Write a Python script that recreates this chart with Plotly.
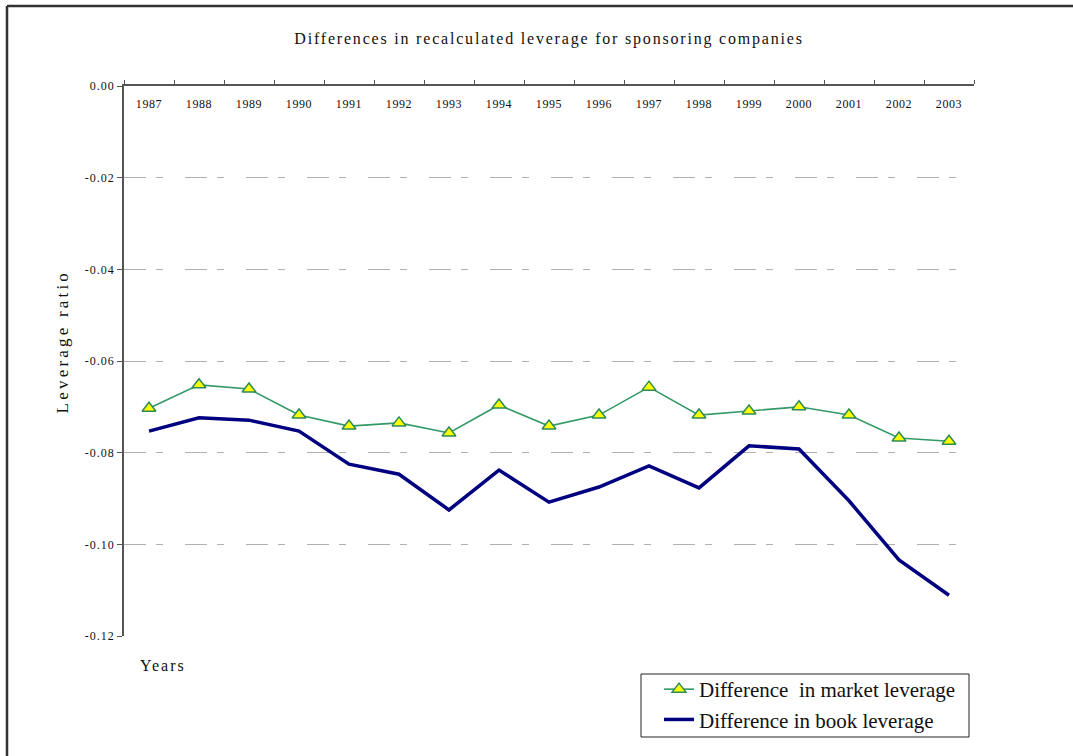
import plotly.graph_objects as go

years = [str(y) for y in range(1987, 2004)]

market_leverage = [-0.0703, -0.0652, -0.0661, -0.0718, -0.0742, -0.0735, -0.0757,
                   -0.0696, -0.0742, -0.0718, -0.0657, -0.0718, -0.0709, -0.0700,
                   -0.0718, -0.0768, -0.0775]
book_leverage = [-0.0753, -0.0724, -0.0729, -0.0753, -0.0825, -0.0847, -0.0925,
                 -0.0838, -0.0908, -0.0875, -0.0829, -0.0877, -0.0785, -0.0792,
                 -0.0905, -0.1034, -0.1111]

y_tick_values = [0.0, -0.02, -0.04, -0.06, -0.08, -0.10, -0.12]
y_tick_labels = ["0.00", "-0.02", "-0.04", "-0.06", "-0.08", "-0.10", "-0.12"]

FONT = "Liberation Serif, Times New Roman, serif"

W, H = 1073, 756
L, R, T, B = 124, 99, 86, 120
pw, ph = W - L - R, H - T - B


def px_x(x):
    return (x - L) / pw


def px_y(y):
    return (H - B - y) / ph


fig = go.Figure()

fig.add_trace(go.Scatter(
    x=years, y=market_leverage, mode="lines+markers",
    name="Difference\u00a0 in market leverage", legendgroup="market",
    line=dict(color="#339966", width=1.6),
    marker=dict(symbol="triangle-up", size=12, color="#ffff00",
                line=dict(color="#2e8b57", width=1.5)),
))
fig.add_trace(go.Scatter(
    x=years, y=book_leverage, mode="lines",
    name="Difference in book leverage", legendgroup="book",
    line=dict(color="#000080", width=3.5),
))

fig.update_layout(
    width=W, height=H,
    margin=dict(l=L, r=R, t=T, b=B),
    paper_bgcolor="white", plot_bgcolor="white",
    font=dict(family=FONT, color="#111"),
    showlegend=True,
    legend=dict(
        x=px_x(659), y=px_y(669), xanchor="left", yanchor="top",
        borderwidth=0, bgcolor="rgba(0,0,0,0)",
        font=dict(family=FONT, size=21, color="#111"),
        tracegroupgap=0,
    ),
    title=dict(
        text="Differences in recalculated leverage for sponsoring companies",
        x=0.5, xref="paper", xanchor="center",
        y=(H - 38) / H, yref="container", yanchor="middle",
        font=dict(family=FONT, size=16, color="#111"),
    ),
    xaxis=dict(
        type="category", side="top",
        showline=True, linecolor="#555", linewidth=1.5,
        ticks="outside", ticklen=4, tickcolor="#555", tickson="boundaries",
        ticklabelposition="outside", ticklabelstandoff=-29,
        tickfont=dict(family=FONT, size=12, color="#111"),
        showgrid=False, zeroline=False,
        range=[-0.5, len(years) - 0.5],
    ),
    yaxis=dict(
        range=[-0.12, 0.0],
        tickvals=y_tick_values, ticktext=y_tick_labels,
        showline=True, linecolor="#555", linewidth=1.5,
        ticks="outside", ticklen=5, tickcolor="#555",
        tickfont=dict(family=FONT, size=12, color="#111"),
        showgrid=True, gridcolor="#b0b0b0", gridwidth=1,
        griddash="22px,10px,7px,22px",
        zeroline=False,
    ),
)

fig.add_annotation(
    text="Years", xref="paper", yref="paper",
    x=px_x(143), y=px_y(665), xanchor="left", yanchor="middle",
    showarrow=False, font=dict(family=FONT, size=16, color="#111"),
)
fig.add_annotation(
    text="Leverage ratio", xref="paper", yref="paper",
    x=px_x(62), y=px_y(342), xanchor="center", yanchor="middle",
    textangle=-90, showarrow=False,
    font=dict(family=FONT, size=17, color="#111"),
)

# legend box
fig.add_shape(type="rect", xref="paper", yref="paper",
              x0=px_x(641), x1=px_x(969), y0=px_y(674), y1=px_y(737),
              line=dict(color="#222", width=1))

# outer frame lines along the top and left edges
frame = dict(color="#333", width=2.5)
fig.add_shape(type="line", xref="paper", yref="paper",
              x0=px_x(7), x1=px_x(W + 5), y0=px_y(6), y1=px_y(6), line=frame)
fig.add_shape(type="line", xref="paper", yref="paper",
              x0=px_x(7), x1=px_x(7), y0=px_y(6), y1=px_y(H + 5), line=frame)

# wider letter tracking for the serif labels
tracking = """
var gd = document.querySelector('.plotly-graph-div');
function track(sel, sp) {
  gd.querySelectorAll(sel).forEach(function (t) { t.style.letterSpacing = sp; });
}
track('.gtitle', '1.8px');
var notes = gd.querySelectorAll('.annotation-text');
if (notes[0]) notes[0].style.letterSpacing = '2px';
if (notes[1]) notes[1].style.letterSpacing = '3.2px';
track('.xtick text', '0.6px');
track('.ytick text', '1px');
"""

fig.write_html("out.html", post_script=tracking)
